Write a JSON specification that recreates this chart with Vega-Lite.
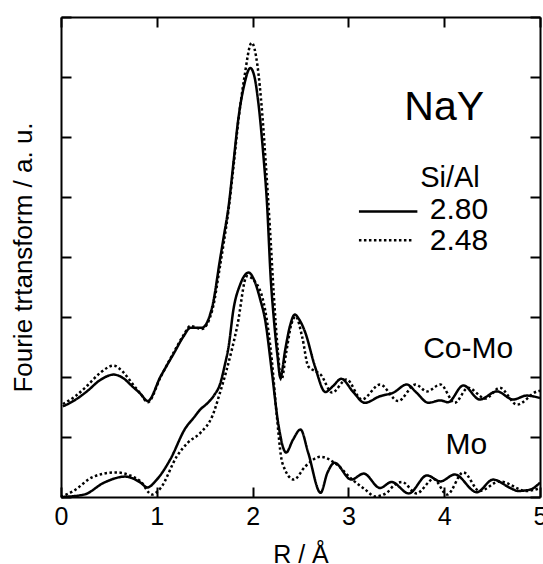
{
 "$schema": "https://vega.github.io/schema/vega-lite/v6.json",
 "width": 479, "height": 480,
 "autosize": "none",
 "padding": {"left": 61, "top": 17, "right": 3, "bottom": 67},
 "background": "white",
 "config": {
  "view": {"stroke": null},
  "font": "Liberation Sans",
  "axis": {"grid": false, "domainColor": "black", "domainWidth": 2, "tickColor": "black", "tickWidth": 2, "tickSize": -10,
           "labelColor": "black", "titleColor": "black", "labelFont": "Liberation Sans", "titleFont": "Liberation Sans", "titleFontWeight": "normal"},
  "text": {"font": "Liberation Sans", "color": "black"}
 },
 "layer": [
  {
   "data": {"values": [
{"sample":"Co-Mo","sial":"2.80","r":0.02,"ft":1.51},{"sample":"Co-Mo","sial":"2.80","r":0.15,"ft":1.62},{"sample":"Co-Mo","sial":"2.80","r":0.27,"ft":1.76},{"sample":"Co-Mo","sial":"2.80","r":0.41,"ft":1.95},{"sample":"Co-Mo","sial":"2.80","r":0.55,"ft":2.04},{"sample":"Co-Mo","sial":"2.80","r":0.65,"ft":1.98},{"sample":"Co-Mo","sial":"2.80","r":0.74,"ft":1.85},{"sample":"Co-Mo","sial":"2.80","r":0.83,"ft":1.72},{"sample":"Co-Mo","sial":"2.80","r":0.905,"ft":1.6},{"sample":"Co-Mo","sial":"2.80","r":1.04,"ft":2.01},{"sample":"Co-Mo","sial":"2.80","r":1.18,"ft":2.4},{"sample":"Co-Mo","sial":"2.80","r":1.28,"ft":2.68},{"sample":"Co-Mo","sial":"2.80","r":1.35,"ft":2.82},{"sample":"Co-Mo","sial":"2.80","r":1.47,"ft":2.82},{"sample":"Co-Mo","sial":"2.80","r":1.58,"ft":3.18},{"sample":"Co-Mo","sial":"2.80","r":1.66,"ft":3.96},{"sample":"Co-Mo","sial":"2.80","r":1.70,"ft":4.35},{"sample":"Co-Mo","sial":"2.80","r":1.75,"ft":4.85},{"sample":"Co-Mo","sial":"2.80","r":1.80,"ft":5.57},{"sample":"Co-Mo","sial":"2.80","r":1.85,"ft":6.29},{"sample":"Co-Mo","sial":"2.80","r":1.91,"ft":6.85},{"sample":"Co-Mo","sial":"2.80","r":1.976,"ft":7.15},{"sample":"Co-Mo","sial":"2.80","r":2.02,"ft":7.0},{"sample":"Co-Mo","sial":"2.80","r":2.06,"ft":6.57},{"sample":"Co-Mo","sial":"2.80","r":2.11,"ft":5.74},{"sample":"Co-Mo","sial":"2.80","r":2.15,"ft":4.9},{"sample":"Co-Mo","sial":"2.80","r":2.19,"ft":3.62},{"sample":"Co-Mo","sial":"2.80","r":2.22,"ft":3.0},{"sample":"Co-Mo","sial":"2.80","r":2.26,"ft":2.35},{"sample":"Co-Mo","sial":"2.80","r":2.29,"ft":1.99},{"sample":"Co-Mo","sial":"2.80","r":2.34,"ft":2.45},{"sample":"Co-Mo","sial":"2.80","r":2.39,"ft":2.85},{"sample":"Co-Mo","sial":"2.80","r":2.44,"ft":3.04},{"sample":"Co-Mo","sial":"2.80","r":2.49,"ft":2.95},{"sample":"Co-Mo","sial":"2.80","r":2.55,"ft":2.74},{"sample":"Co-Mo","sial":"2.80","r":2.65,"ft":2.18},{"sample":"Co-Mo","sial":"2.80","r":2.76,"ft":1.75},{"sample":"Co-Mo","sial":"2.80","r":2.84,"ft":1.85},{"sample":"Co-Mo","sial":"2.80","r":2.925,"ft":1.97},{"sample":"Co-Mo","sial":"2.80","r":3.05,"ft":1.75},{"sample":"Co-Mo","sial":"2.80","r":3.17,"ft":1.57},{"sample":"Co-Mo","sial":"2.80","r":3.33,"ft":1.68},{"sample":"Co-Mo","sial":"2.80","r":3.47,"ft":1.74},{"sample":"Co-Mo","sial":"2.80","r":3.61,"ft":1.875},{"sample":"Co-Mo","sial":"2.80","r":3.71,"ft":1.74},{"sample":"Co-Mo","sial":"2.80","r":3.835,"ft":1.57},{"sample":"Co-Mo","sial":"2.80","r":3.96,"ft":1.61},{"sample":"Co-Mo","sial":"2.80","r":4.04,"ft":1.58},{"sample":"Co-Mo","sial":"2.80","r":4.2,"ft":1.86},{"sample":"Co-Mo","sial":"2.80","r":4.37,"ft":1.625},{"sample":"Co-Mo","sial":"2.80","r":4.55,"ft":1.76},{"sample":"Co-Mo","sial":"2.80","r":4.72,"ft":1.625},{"sample":"Co-Mo","sial":"2.80","r":4.86,"ft":1.69},{"sample":"Co-Mo","sial":"2.80","r":5.0,"ft":1.65},
{"sample":"Co-Mo","sial":"2.48","r":0.02,"ft":1.55},{"sample":"Co-Mo","sial":"2.48","r":0.15,"ft":1.68},{"sample":"Co-Mo","sial":"2.48","r":0.27,"ft":1.85},{"sample":"Co-Mo","sial":"2.48","r":0.41,"ft":2.07},{"sample":"Co-Mo","sial":"2.48","r":0.55,"ft":2.19},{"sample":"Co-Mo","sial":"2.48","r":0.65,"ft":2.08},{"sample":"Co-Mo","sial":"2.48","r":0.74,"ft":1.9},{"sample":"Co-Mo","sial":"2.48","r":0.83,"ft":1.72},{"sample":"Co-Mo","sial":"2.48","r":0.905,"ft":1.58},{"sample":"Co-Mo","sial":"2.48","r":1.04,"ft":2.0},{"sample":"Co-Mo","sial":"2.48","r":1.18,"ft":2.42},{"sample":"Co-Mo","sial":"2.48","r":1.28,"ft":2.7},{"sample":"Co-Mo","sial":"2.48","r":1.35,"ft":2.85},{"sample":"Co-Mo","sial":"2.48","r":1.47,"ft":2.8},{"sample":"Co-Mo","sial":"2.48","r":1.58,"ft":3.12},{"sample":"Co-Mo","sial":"2.48","r":1.66,"ft":3.85},{"sample":"Co-Mo","sial":"2.48","r":1.70,"ft":4.25},{"sample":"Co-Mo","sial":"2.48","r":1.75,"ft":4.8},{"sample":"Co-Mo","sial":"2.48","r":1.80,"ft":5.5},{"sample":"Co-Mo","sial":"2.48","r":1.85,"ft":6.25},{"sample":"Co-Mo","sial":"2.48","r":1.91,"ft":6.95},{"sample":"Co-Mo","sial":"2.48","r":1.99,"ft":7.57},{"sample":"Co-Mo","sial":"2.48","r":2.05,"ft":7.2},{"sample":"Co-Mo","sial":"2.48","r":2.10,"ft":6.4},{"sample":"Co-Mo","sial":"2.48","r":2.14,"ft":5.5},{"sample":"Co-Mo","sial":"2.48","r":2.18,"ft":4.5},{"sample":"Co-Mo","sial":"2.48","r":2.22,"ft":3.4},{"sample":"Co-Mo","sial":"2.48","r":2.26,"ft":2.5},{"sample":"Co-Mo","sial":"2.48","r":2.30,"ft":1.95},{"sample":"Co-Mo","sial":"2.48","r":2.35,"ft":2.4},{"sample":"Co-Mo","sial":"2.48","r":2.40,"ft":2.85},{"sample":"Co-Mo","sial":"2.48","r":2.45,"ft":3.01},{"sample":"Co-Mo","sial":"2.48","r":2.52,"ft":2.65},{"sample":"Co-Mo","sial":"2.48","r":2.58,"ft":2.18},{"sample":"Co-Mo","sial":"2.48","r":2.65,"ft":2.1},{"sample":"Co-Mo","sial":"2.48","r":2.71,"ft":2.04},{"sample":"Co-Mo","sial":"2.48","r":2.83,"ft":1.74},{"sample":"Co-Mo","sial":"2.48","r":2.98,"ft":1.96},{"sample":"Co-Mo","sial":"2.48","r":3.14,"ft":1.625},{"sample":"Co-Mo","sial":"2.48","r":3.33,"ft":1.875},{"sample":"Co-Mo","sial":"2.48","r":3.52,"ft":1.6},{"sample":"Co-Mo","sial":"2.48","r":3.70,"ft":1.875},{"sample":"Co-Mo","sial":"2.48","r":3.82,"ft":1.76},{"sample":"Co-Mo","sial":"2.48","r":3.96,"ft":1.875},{"sample":"Co-Mo","sial":"2.48","r":4.11,"ft":1.57},{"sample":"Co-Mo","sial":"2.48","r":4.25,"ft":1.82},{"sample":"Co-Mo","sial":"2.48","r":4.43,"ft":1.64},{"sample":"Co-Mo","sial":"2.48","r":4.58,"ft":1.82},{"sample":"Co-Mo","sial":"2.48","r":4.76,"ft":1.54},{"sample":"Co-Mo","sial":"2.48","r":4.97,"ft":1.76},{"sample":"Co-Mo","sial":"2.48","r":5.0,"ft":1.77},
{"sample":"Mo","sial":"2.80","r":0.0,"ft":0.0},{"sample":"Mo","sial":"2.80","r":0.24,"ft":0.04},{"sample":"Mo","sial":"2.80","r":0.45,"ft":0.24},{"sample":"Mo","sial":"2.80","r":0.67,"ft":0.34},{"sample":"Mo","sial":"2.80","r":0.83,"ft":0.24},{"sample":"Mo","sial":"2.80","r":0.90,"ft":0.16},{"sample":"Mo","sial":"2.80","r":1.0,"ft":0.29},{"sample":"Mo","sial":"2.80","r":1.14,"ft":0.625},{"sample":"Mo","sial":"2.80","r":1.30,"ft":1.15},{"sample":"Mo","sial":"2.80","r":1.385,"ft":1.32},{"sample":"Mo","sial":"2.80","r":1.455,"ft":1.46},{"sample":"Mo","sial":"2.80","r":1.52,"ft":1.55},{"sample":"Mo","sial":"2.80","r":1.60,"ft":1.7},{"sample":"Mo","sial":"2.80","r":1.66,"ft":1.88},{"sample":"Mo","sial":"2.80","r":1.71,"ft":2.2},{"sample":"Mo","sial":"2.80","r":1.75,"ft":2.51},{"sample":"Mo","sial":"2.80","r":1.80,"ft":3.125},{"sample":"Mo","sial":"2.80","r":1.87,"ft":3.54},{"sample":"Mo","sial":"2.80","r":1.96,"ft":3.74},{"sample":"Mo","sial":"2.80","r":2.02,"ft":3.6},{"sample":"Mo","sial":"2.80","r":2.08,"ft":3.29},{"sample":"Mo","sial":"2.80","r":2.13,"ft":2.96},{"sample":"Mo","sial":"2.80","r":2.2,"ft":2.1},{"sample":"Mo","sial":"2.80","r":2.27,"ft":1.2},{"sample":"Mo","sial":"2.80","r":2.35,"ft":0.74},{"sample":"Mo","sial":"2.80","r":2.42,"ft":0.95},{"sample":"Mo","sial":"2.80","r":2.50,"ft":1.125},{"sample":"Mo","sial":"2.80","r":2.58,"ft":0.74},{"sample":"Mo","sial":"2.80","r":2.71,"ft":0.07},{"sample":"Mo","sial":"2.80","r":2.78,"ft":0.4},{"sample":"Mo","sial":"2.80","r":2.855,"ft":0.57},{"sample":"Mo","sial":"2.80","r":3.03,"ft":0.29},{"sample":"Mo","sial":"2.80","r":3.16,"ft":0.39},{"sample":"Mo","sial":"2.80","r":3.33,"ft":0.15},{"sample":"Mo","sial":"2.80","r":3.45,"ft":0.25},{"sample":"Mo","sial":"2.80","r":3.63,"ft":0.06},{"sample":"Mo","sial":"2.80","r":3.82,"ft":0.36},{"sample":"Mo","sial":"2.80","r":3.96,"ft":0.26},{"sample":"Mo","sial":"2.80","r":4.11,"ft":0.375},{"sample":"Mo","sial":"2.80","r":4.34,"ft":0.08},{"sample":"Mo","sial":"2.80","r":4.51,"ft":0.29},{"sample":"Mo","sial":"2.80","r":4.69,"ft":0.15},{"sample":"Mo","sial":"2.80","r":4.77,"ft":0.1},{"sample":"Mo","sial":"2.80","r":4.90,"ft":0.125},{"sample":"Mo","sial":"2.80","r":5.0,"ft":0.24},
{"sample":"Mo","sial":"2.48","r":0.0,"ft":0.0},{"sample":"Mo","sial":"2.48","r":0.13,"ft":0.1},{"sample":"Mo","sial":"2.48","r":0.34,"ft":0.34},{"sample":"Mo","sial":"2.48","r":0.57,"ft":0.41},{"sample":"Mo","sial":"2.48","r":0.72,"ft":0.36},{"sample":"Mo","sial":"2.48","r":0.83,"ft":0.26},{"sample":"Mo","sial":"2.48","r":0.95,"ft":0.04},{"sample":"Mo","sial":"2.48","r":1.04,"ft":0.15},{"sample":"Mo","sial":"2.48","r":1.21,"ft":0.68},{"sample":"Mo","sial":"2.48","r":1.32,"ft":0.9},{"sample":"Mo","sial":"2.48","r":1.455,"ft":1.07},{"sample":"Mo","sial":"2.48","r":1.58,"ft":1.35},{"sample":"Mo","sial":"2.48","r":1.66,"ft":1.74},{"sample":"Mo","sial":"2.48","r":1.73,"ft":2.125},{"sample":"Mo","sial":"2.48","r":1.84,"ft":2.85},{"sample":"Mo","sial":"2.48","r":1.94,"ft":3.68},{"sample":"Mo","sial":"2.48","r":2.02,"ft":3.6},{"sample":"Mo","sial":"2.48","r":2.13,"ft":3.125},{"sample":"Mo","sial":"2.48","r":2.20,"ft":2.29},{"sample":"Mo","sial":"2.48","r":2.25,"ft":1.4},{"sample":"Mo","sial":"2.48","r":2.31,"ft":0.57},{"sample":"Mo","sial":"2.48","r":2.43,"ft":0.29},{"sample":"Mo","sial":"2.48","r":2.55,"ft":0.51},{"sample":"Mo","sial":"2.48","r":2.71,"ft":0.67},{"sample":"Mo","sial":"2.48","r":2.88,"ft":0.54},{"sample":"Mo","sial":"2.48","r":3.04,"ft":0.29},{"sample":"Mo","sial":"2.48","r":3.175,"ft":0.125},{"sample":"Mo","sial":"2.48","r":3.28,"ft":0.01},{"sample":"Mo","sial":"2.48","r":3.40,"ft":0.07},{"sample":"Mo","sial":"2.48","r":3.48,"ft":0.2},{"sample":"Mo","sial":"2.48","r":3.56,"ft":0.25},{"sample":"Mo","sial":"2.48","r":3.71,"ft":0.06},{"sample":"Mo","sial":"2.48","r":3.89,"ft":0.30},{"sample":"Mo","sial":"2.48","r":4.03,"ft":0.04},{"sample":"Mo","sial":"2.48","r":4.2,"ft":0.41},{"sample":"Mo","sial":"2.48","r":4.37,"ft":0.1},{"sample":"Mo","sial":"2.48","r":4.58,"ft":0.26},{"sample":"Mo","sial":"2.48","r":4.86,"ft":0.1},{"sample":"Mo","sial":"2.48","r":5.0,"ft":0.15}
   ]},
   "mark": {"type": "line", "interpolate": "monotone", "color": "black", "strokeWidth": 2.5},
   "encoding": {
    "x": {"field": "r", "type": "quantitative", "scale": {"domain": [0, 5], "nice": false, "zero": false},
          "axis": {"values": [0, 1, 2, 3, 4, 5], "labelFontSize": 25, "labelPadding": 17, "labelFlush": false, "title": "R / Å", "titleFontSize": 25, "titlePadding": 13}},
    "y": {"field": "ft", "type": "quantitative", "scale": {"domain": [0, 8], "nice": false, "zero": false},
          "axis": {"values": [0, 1, 2, 3, 4, 5, 6, 7, 8], "labels": false, "title": "Fourie trtansform / a. u.", "titleFontSize": 26, "titlePadding": 24}},
    "detail": {"field": "sample", "type": "nominal"},
    "strokeDash": {"field": "sial", "type": "nominal", "title": "Si/Al",
                   "scale": {"domain": ["2.80", "2.48"], "range": [[1, 0], [2.5, 2.5]]},
                   "legend": null}
   }
  },
  {
   "data": {"values": [{"label": "NaY"}]},
   "mark": {"type": "text", "fontSize": 41, "align": "center", "baseline": "alphabetic"},
   "encoding": {
    "text": {"field": "label"},
    "x": {"datum": 4.0, "type": "quantitative", "axis": {"orient": "top", "values": [0, 1, 2, 3, 4, 5], "labels": false, "title": null}},
    "y": {"datum": 6.29, "type": "quantitative", "axis": {"orient": "right", "values": [0, 1, 2, 3, 4, 5, 6, 7, 8], "labels": false, "title": null}}
   }
  },
  {
   "data": {"values": [{"label": "Co-Mo"}]},
   "mark": {"type": "text", "fontSize": 30, "align": "center", "baseline": "alphabetic"},
   "encoding": {
    "text": {"field": "label"},
    "x": {"datum": 4.25, "type": "quantitative", "axis": null},
    "y": {"datum": 2.325, "type": "quantitative", "axis": null}
   }
  },
  {
   "data": {"values": [{"label": "Mo"}]},
   "mark": {"type": "text", "fontSize": 30, "align": "center", "baseline": "alphabetic"},
   "encoding": {
    "text": {"field": "label"},
    "x": {"datum": 4.23, "type": "quantitative", "axis": null},
    "y": {"datum": 0.71, "type": "quantitative", "axis": null}
   }
  },
  {
   "data": {"values": [{"label": "Si/Al"}]},
   "mark": {"type": "text", "fontSize": 29, "align": "center", "baseline": "alphabetic"},
   "encoding": {
    "text": {"field": "label"},
    "x": {"datum": 4.06, "type": "quantitative", "axis": null},
    "y": {"datum": 5.175, "type": "quantitative", "axis": null}
   }
  },
  {
   "data": {"values": [{"sial": "2.80"}]},
   "mark": {"type": "text", "fontSize": 30, "align": "left", "baseline": "alphabetic"},
   "encoding": {
    "text": {"field": "sial"},
    "x": {"datum": 3.85, "type": "quantitative", "axis": null},
    "y": {"datum": 4.64, "type": "quantitative", "axis": null}
   }
  },
  {
   "data": {"values": [{"sial": "2.48"}]},
   "mark": {"type": "text", "fontSize": 30, "align": "left", "baseline": "alphabetic"},
   "encoding": {
    "text": {"field": "sial"},
    "x": {"datum": 3.85, "type": "quantitative", "axis": null},
    "y": {"datum": 4.125, "type": "quantitative", "axis": null}
   }
  },
  {
   "data": {"values": [{"sial": "2.80"}]},
   "mark": {"type": "rule", "color": "black", "strokeWidth": 2.5},
   "encoding": {
    "x": {"datum": 3.11, "type": "quantitative", "axis": null},
    "x2": {"datum": 3.72},
    "y": {"datum": 4.76, "type": "quantitative", "axis": null},
    "strokeDash": {"field": "sial", "type": "nominal", "legend": null}
   }
  },
  {
   "data": {"values": [{"sial": "2.48"}]},
   "mark": {"type": "rule", "color": "black", "strokeWidth": 2.5},
   "encoding": {
    "x": {"datum": 3.11, "type": "quantitative", "axis": null},
    "x2": {"datum": 3.68},
    "y": {"datum": 4.28, "type": "quantitative", "axis": null},
    "strokeDash": {"field": "sial", "type": "nominal", "legend": null}
   }
  }
 ],
 "resolve": {"axis": {"x": "independent", "y": "independent"}}
}
